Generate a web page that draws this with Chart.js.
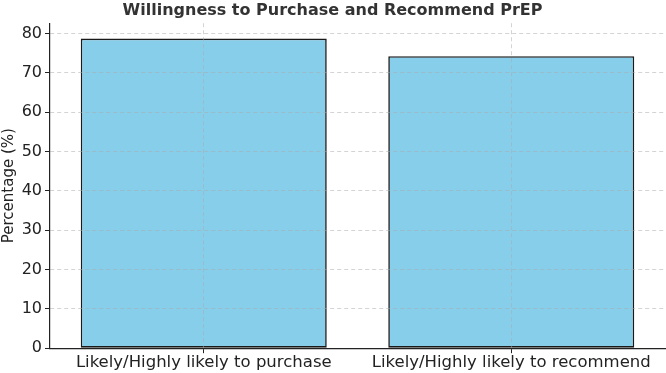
<!DOCTYPE html>
<html>
<head>
<meta charset="utf-8">
<script src="https://cdn.jsdelivr.net/npm/chart.js@4"></script>
<style>
  html, body { margin: 0; padding: 0; background: #fff; }
  #wrap { width: 666px; height: 373px; }
</style>
</head>
<body>
<div id="wrap"><canvas id="prepChart"></canvas></div>
<script>
// chart data
const categories = ["Likely/Highly likely to purchase", "Likely/Highly likely to recommend"];
const percentages = [78.7, 74.2];
const yTicks = [0, 10, 20, 30, 40, 50, 60, 70, 80];
const yMax = 82.6;

const ctx = document.getElementById("prepChart").getContext("2d");
const font = "'DejaVu Sans', sans-serif";
const gridColor = "rgba(170,170,170,0.5)";

new Chart(ctx, {
  type: "bar",
  data: {
    labels: categories,
    datasets: [
      {
        data: percentages,
        backgroundColor: "#87CEEB",
        borderColor: "#1a1a1a",
        borderWidth: 1.6,
        borderSkipped: false,
        barPercentage: 0.8,
        categoryPercentage: 1.0,
      },
    ],
  },
  options: {
    responsive: true,
    maintainAspectRatio: false,
    animation: false,
    layout: { padding: { top: 0, right: 1, bottom: 0, left: 0 } },
    scales: {
      x: {
        offset: true,
        grid: {
          z: 1,
          offset: false,
          color: gridColor,
          tickColor: "#222",
          tickLength: 5,
        },
        border: { z: 2, display: true, color: "#222", width: 1.2, dash: [4, 3] },
        ticks: { color: "#222", font: { family: font, size: 16.5 }, padding: 0 },
      },
      y: {
        min: 0,
        max: yMax,
        afterBuildTicks: (scale) => {
          scale.ticks = yTicks.map((v) => ({ value: v }));
        },
        afterFit: (scale) => { scale.width = 50; },
        grid: {
          z: 1,
          color: gridColor,
          tickColor: "#222",
          tickLength: 5,
        },
        border: { z: 2, display: true, color: "#222", width: 1.2, dash: [4, 3] },
        ticks: { color: "#222", font: { family: font, size: 16 }, padding: 3 },
        title: {
          display: true,
          text: "Percentage (%)",
          color: "#222",
          font: { family: font, size: 15 },
          padding: { top: 0, bottom: 0 },
        },
      },
    },
    plugins: {
      legend: { display: false },
      tooltip: { enabled: false },
      title: {
        display: true,
        text: "Willingness to Purchase and Recommend PrEP",
        color: "#333",
        font: { family: font, size: 16, weight: "bold" },
        padding: { top: 1, bottom: 3 },
      },
    },
  },
});
</script>
</body>
</html>
